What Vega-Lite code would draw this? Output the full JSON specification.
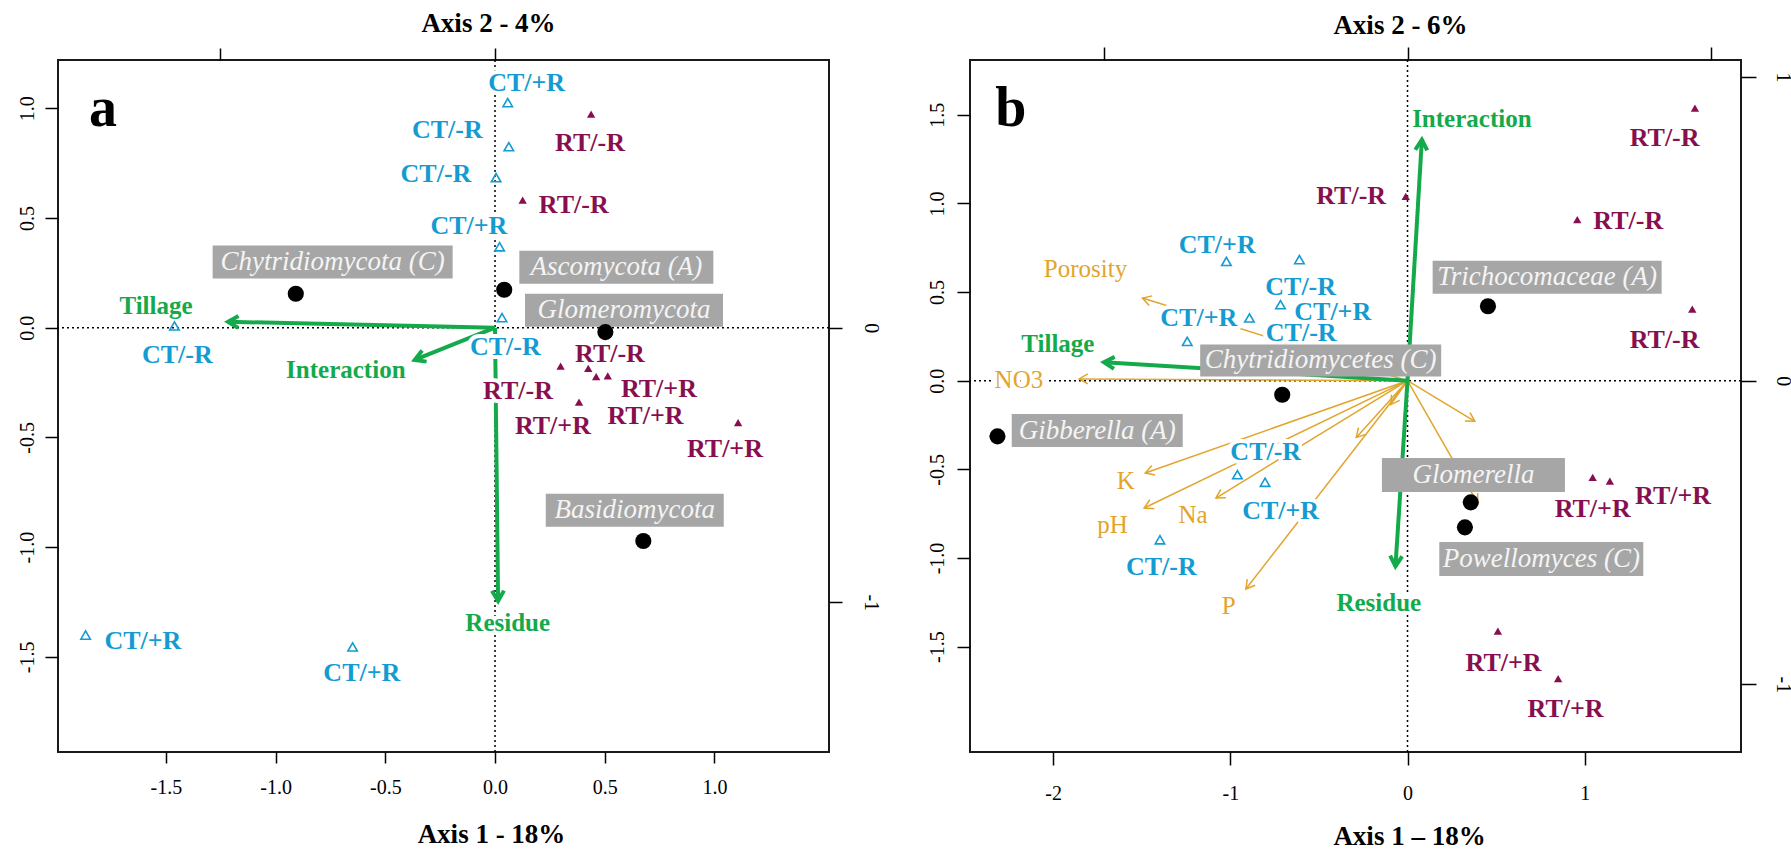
{
"$schema": "https://vega.github.io/schema/vega-lite/v6.json",
"background": "white",
"padding": {"left": 16, "top": 8, "right": 0, "bottom": 0},
"spacing": 44,
"datasets": {
 "ref": [{"ref": 0}],
 "a_sites": [
  {"trt":"CT","x":0.058,"y":1.026},{"trt":"CT","x":0.063,"y":0.825},{"trt":"CT","x":0.005,"y":0.684},{"trt":"CT","x":0.021,"y":0.369},
  {"trt":"CT","x":0.032,"y":0.046},{"trt":"CT","x":-1.461,"y":0.008},{"trt":"CT","x":-1.866,"y":-1.401},{"trt":"CT","x":-0.649,"y":-1.455},
  {"trt":"RT","x":0.438,"y":0.973},{"trt":"RT","x":0.126,"y":0.581},{"trt":"RT","x":0.299,"y":-0.175},{"trt":"RT","x":0.425,"y":-0.185},
  {"trt":"RT","x":0.461,"y":-0.223},{"trt":"RT","x":0.514,"y":-0.220},{"trt":"RT","x":0.383,"y":-0.339},{"trt":"RT","x":1.108,"y":-0.433}
 ],
 "a_site_labels": [
  {"trt":"CT","label":"CT/+R","x":0.144,"y":1.117},{"trt":"CT","label":"CT/-R","x":-0.217,"y":0.900},{"trt":"CT","label":"CT/-R","x":-0.269,"y":0.701},
  {"trt":"CT","label":"CT/+R","x":-0.119,"y":0.464},{"trt":"CT","label":"CT/-R","x":0.047,"y":-0.088},{"trt":"CT","label":"CT/-R","x":-1.448,"y":-0.124},
  {"trt":"CT","label":"CT/+R","x":-1.605,"y":-1.428},{"trt":"CT","label":"CT/+R","x":-0.607,"y":-1.575},
  {"trt":"RT","label":"RT/-R","x":0.433,"y":0.843},{"trt":"RT","label":"RT/-R","x":0.359,"y":0.558},{"trt":"RT","label":"RT/-R","x":0.524,"y":-0.121},
  {"trt":"RT","label":"RT/+R","x":0.747,"y":-0.278},{"trt":"RT","label":"RT/-R","x":0.105,"y":-0.289},{"trt":"RT","label":"RT/+R","x":0.686,"y":-0.402},
  {"trt":"RT","label":"RT/+R","x":0.264,"y":-0.448},{"trt":"RT","label":"RT/+R","x":1.048,"y":-0.554}
 ],
 "a_vars": [{"var":"Tillage","x":-1.217,"y":0.027},{"var":"Interaction","x":-0.366,"y":-0.147},{"var":"Residue","x":0.014,"y":-1.246}],
 "a_var_labels": [{"label":"Tillage","x":-1.545,"y":0.099},{"label":"Interaction","x":-0.680,"y":-0.193},{"label":"Residue","x":0.058,"y":-1.347}],
 "a_taxa": [{"taxon":"Chytridiomycota","x":-0.908,"y":0.155},{"taxon":"Ascomycota","x":0.042,"y":0.173},{"taxon":"Glomeromycota","x":0.503,"y":-0.020},{"taxon":"Basidiomycota","x":0.676,"y":-0.972}],
 "a_taxa_labels": [{"label":"Chytridiomycota (C)","x":-0.740,"y":0.299},{"label":"Ascomycota (A)","x":0.553,"y":0.275},{"label":"Glomeromycota","x":0.588,"y":0.079},{"label":"Basidiomycota","x":0.637,"y":-0.832}],
 "a_letter": [{"label":"a","x":-1.787,"y":0.919}],
 "b_sites": [
  {"trt":"CT","x":-1.022,"y":0.673},{"trt":"CT","x":-0.610,"y":0.683},{"trt":"CT","x":-0.717,"y":0.429},{"trt":"CT","x":-0.892,"y":0.354},
  {"trt":"CT","x":-1.243,"y":0.222},{"trt":"CT","x":-0.960,"y":-0.530},{"trt":"CT","x":-0.804,"y":-0.573},{"trt":"CT","x":-1.397,"y":-0.897},
  {"trt":"RT","x":-0.010,"y":1.040},{"trt":"RT","x":0.958,"y":0.908},{"trt":"RT","x":1.622,"y":1.538},{"trt":"RT","x":1.607,"y":0.404},
  {"trt":"RT","x":1.045,"y":-0.545},{"trt":"RT","x":1.142,"y":-0.567},{"trt":"RT","x":0.510,"y":-1.413},{"trt":"RT","x":0.850,"y":-1.681}
 ],
 "b_site_labels": [
  {"trt":"CT","label":"CT/+R","x":-1.074,"y":0.767},{"trt":"CT","label":"CT/-R","x":-0.603,"y":0.528},{"trt":"CT","label":"CT/+R","x":-0.422,"y":0.386},
  {"trt":"CT","label":"CT/+R","x":-1.178,"y":0.354},{"trt":"CT","label":"CT/-R","x":-0.600,"y":0.269},{"trt":"CT","label":"CT/-R","x":-0.800,"y":-0.404},
  {"trt":"CT","label":"CT/+R","x":-0.716,"y":-0.737},{"trt":"CT","label":"CT/-R","x":-1.389,"y":-1.051},
  {"trt":"RT","label":"RT/-R","x":-0.318,"y":1.040},{"trt":"RT","label":"RT/-R","x":1.246,"y":0.899},{"trt":"RT","label":"RT/-R","x":1.451,"y":1.369},
  {"trt":"RT","label":"RT/-R","x":1.451,"y":0.228},{"trt":"RT","label":"RT/+R","x":1.499,"y":-0.649},{"trt":"RT","label":"RT/+R","x":1.045,"y":-0.724},
  {"trt":"RT","label":"RT/+R","x":0.542,"y":-1.592},{"trt":"RT","label":"RT/+R","x":0.892,"y":-1.852}
 ],
 "b_vars": [{"var":"Tillage","x":-1.713,"y":0.104},{"var":"Interaction","x":0.081,"y":1.359},{"var":"Residue","x":-0.068,"y":-1.047}],
 "b_var_labels": [{"label":"Tillage","x":-1.973,"y":0.209},{"label":"Interaction","x":0.363,"y":1.478},{"label":"Residue","x":-0.162,"y":-1.254}],
 "b_env": [
  {"var":"Porosity","x":-1.496,"y":0.466},{"var":"NO3","x":-1.853,"y":0.010},{"var":"K","x":-1.480,"y":-0.521},{"var":"pH","x":-1.486,"y":-0.718},
  {"var":"Na","x":-1.081,"y":-0.662},{"var":"P","x":-0.912,"y":-1.175},{"var":"unlabelled 1","x":-0.289,"y":-0.320},{"var":"unlabelled 2","x":-0.095,"y":-0.135},
  {"var":"unlabelled 3","x":0.380,"y":-0.229},{"var":"unlabelled 4","x":0.396,"y":-0.690}
 ],
 "b_env_labels": [
  {"label":"Porosity","x":-1.817,"y":0.632},{"label":"NO3","x":-2.193,"y":0.006},{"label":"K","x":-1.590,"y":-0.564},
  {"label":"pH","x":-1.665,"y":-0.812},{"label":"Na","x":-1.210,"y":-0.756},{"label":"P","x":-1.009,"y":-1.269}
 ],
 "b_taxa": [{"taxon":"Trichocomaceae","x":0.454,"y":0.420},{"taxon":"Chytridiomycetes","x":-0.707,"y":-0.079},{"taxon":"Gibberella","x":-2.314,"y":-0.314},{"taxon":"Glomerella","x":0.357,"y":-0.686},{"taxon":"Powellomyces","x":0.324,"y":-0.827}],
 "b_taxa_labels": [{"label":"Trichocomaceae (A)","x":0.788,"y":0.583},{"label":"Chytridiomycetes (C)","x":-0.490,"y":0.114},{"label":"Gibberella (A)","x":-1.751,"y":-0.281},{"label":"Glomerella","x":0.372,"y":-0.532},{"label":"Powellomyces (C)","x":0.755,"y":-1.005}],
 "b_letter": [{"label":"b","x":-2.238,"y":1.437}]
},
"hconcat": [
 {
  "width": 771, "height": 692,
  "layer": [
   {"layer": [
    {"data":{"name":"ref"},"mark":{"type":"rule","color":"#000","strokeWidth":1.5,"strokeDash":[2,3]},
     "encoding":{"y":{"field":"ref","type":"quantitative","scale":{"domain":[-1.9339,1.2201],"nice":false,"zero":false},
      "axis":{"orient":"left","values":[-1.5,-1,-0.5,0,0.5,1],"labelExpr":"replace(format(datum.value,'.1f'),'\u2212','-')","tickSize":13,"labelPadding":12,"labelAngle":270,"labelAlign":"center","labelBaseline":"alphabetic","title":null}}}},
    {"data":{"name":"ref"},"mark":{"type":"rule","color":"#000","strokeWidth":1.5,"strokeDash":[2,3]},
     "encoding":{"x":{"field":"ref","type":"quantitative","scale":{"domain":[-1.9918,1.5223],"nice":false,"zero":false},
      "axis":{"orient":"bottom","values":[-1.5,-1,-0.5,0,0.5,1],"labelExpr":"replace(format(datum.value,'.1f'),'\u2212','-')","tickSize":11,"labelPadding":30,"labelAngle":0,"labelAlign":"center","labelBaseline":"alphabetic","title":"Axis 1 - 18%","titleX":433,"titleY":90,"titleAlign":"center","titleBaseline":"alphabetic"}}}},
    {"data":{"name":"a_vars"},"mark":{"type":"rule","color":"#14AA4B","strokeWidth":4},
     "encoding":{"x":{"field":"x","type":"quantitative","scale":{"domain":[-1.9918,1.5223],"nice":false,"zero":false}},"x2":{"datum":0},
      "y":{"field":"y","type":"quantitative","scale":{"domain":[-1.9339,1.2201],"nice":false,"zero":false}},"y2":{"datum":0}}},
    {"data":{"name":"a_vars"},"mark":{"type":"point","shape":"M-0.5,0.866L0,0L0.5,0.866","size":576,"filled":false,"stroke":"#14AA4B","strokeWidth":4,"opacity":1},
     "encoding":{"x":{"field":"x","type":"quantitative","scale":{"domain":[-1.9918,1.5223],"nice":false,"zero":false}},
      "y":{"field":"y","type":"quantitative","scale":{"domain":[-1.9339,1.2201],"nice":false,"zero":false}},
      "angle":{"field":"var","type":"nominal","scale":{"type":"ordinal","domain":["Tillage","Interaction","Residue"],"range":[271.3,248.1,179.4]},"legend":null}}},
    {"data":{"name":"a_site_labels"},"mark":{"type":"text","font":"Liberation Serif","fontSize":26,"fontWeight":"bold","align":"center","baseline":"middle","fill":"white","stroke":"white","strokeWidth":8,"strokeJoin":"round"},
     "encoding":{"x":{"field":"x","type":"quantitative","scale":{"domain":[-1.9918,1.5223],"nice":false,"zero":false}},
      "y":{"field":"y","type":"quantitative","scale":{"domain":[-1.9339,1.2201],"nice":false,"zero":false}},"text":{"field":"label"}}},
    {"data":{"name":"a_var_labels"},"mark":{"type":"text","font":"Liberation Serif","fontSize":25,"fontWeight":"bold","align":"center","baseline":"middle","fill":"white","stroke":"white","strokeWidth":8,"strokeJoin":"round"},
     "encoding":{"x":{"field":"x","type":"quantitative","scale":{"domain":[-1.9918,1.5223],"nice":false,"zero":false}},
      "y":{"field":"y","type":"quantitative","scale":{"domain":[-1.9339,1.2201],"nice":false,"zero":false}},"text":{"field":"label"}}},
    {"data":{"name":"a_taxa_labels"},"mark":{"type":"point","size":40000,"filled":true,"fill":"#A6A6A6","opacity":1,"strokeWidth":0},
     "encoding":{"x":{"field":"x","type":"quantitative","scale":{"domain":[-1.9918,1.5223],"nice":false,"zero":false}},
      "y":{"field":"y","type":"quantitative","scale":{"domain":[-1.9339,1.2201],"nice":false,"zero":false}},
      "shape":{"field":"label","type":"nominal","legend":null,"scale":{"domain":["Chytridiomycota (C)","Ascomycota (A)","Glomeromycota","Basidiomycota"],
       "range":["M-1.2,-0.165L1.2,-0.165L1.2,0.165L-1.2,0.165Z","M-0.97,-0.165L0.97,-0.165L0.97,0.165L-0.97,0.165Z","M-0.99,-0.165L0.99,-0.165L0.99,0.165L-0.99,0.165Z","M-0.89,-0.165L0.89,-0.165L0.89,0.165L-0.89,0.165Z"]}}}},
    {"data":{"name":"a_taxa_labels"},"mark":{"type":"text","font":"Liberation Serif","fontSize":27,"fontStyle":"italic","align":"center","baseline":"middle","color":"#F4F4F4"},
     "encoding":{"x":{"field":"x","type":"quantitative","scale":{"domain":[-1.9918,1.5223],"nice":false,"zero":false}},
      "y":{"field":"y","type":"quantitative","scale":{"domain":[-1.9339,1.2201],"nice":false,"zero":false}},"text":{"field":"label"}}},
    {"data":{"name":"a_sites"},"transform":[{"filter":"datum.trt == 'CT'"}],"mark":{"type":"point","shape":"triangle-up","size":90,"filled":false,"stroke":"#149BD2","strokeWidth":1.6,"opacity":1},
     "encoding":{"x":{"field":"x","type":"quantitative","scale":{"domain":[-1.9918,1.5223],"nice":false,"zero":false}},
      "y":{"field":"y","type":"quantitative","scale":{"domain":[-1.9339,1.2201],"nice":false,"zero":false}}}},
    {"data":{"name":"a_sites"},"transform":[{"filter":"datum.trt == 'RT'"}],"mark":{"type":"point","shape":"triangle-up","size":70,"filled":true,"fill":"#870F50","strokeWidth":0,"opacity":1},
     "encoding":{"x":{"field":"x","type":"quantitative","scale":{"domain":[-1.9918,1.5223],"nice":false,"zero":false}},
      "y":{"field":"y","type":"quantitative","scale":{"domain":[-1.9339,1.2201],"nice":false,"zero":false}}}},
    {"data":{"name":"a_taxa"},"mark":{"type":"circle","size":260,"color":"#000","opacity":1},
     "encoding":{"x":{"field":"x","type":"quantitative","scale":{"domain":[-1.9918,1.5223],"nice":false,"zero":false}},
      "y":{"field":"y","type":"quantitative","scale":{"domain":[-1.9339,1.2201],"nice":false,"zero":false}}}},
    {"data":{"name":"a_site_labels"},"mark":{"type":"text","font":"Liberation Serif","fontSize":26,"fontWeight":"bold","align":"center","baseline":"middle"},
     "encoding":{"x":{"field":"x","type":"quantitative","scale":{"domain":[-1.9918,1.5223],"nice":false,"zero":false}},
      "y":{"field":"y","type":"quantitative","scale":{"domain":[-1.9339,1.2201],"nice":false,"zero":false}},"text":{"field":"label"},
      "color":{"field":"trt","type":"nominal","scale":{"domain":["CT","RT"],"range":["#149BD2","#870F50"]},"legend":null}}},
    {"data":{"name":"a_var_labels"},"mark":{"type":"text","font":"Liberation Serif","fontSize":25,"fontWeight":"bold","align":"center","baseline":"middle","color":"#14AA4B"},
     "encoding":{"x":{"field":"x","type":"quantitative","scale":{"domain":[-1.9918,1.5223],"nice":false,"zero":false}},
      "y":{"field":"y","type":"quantitative","scale":{"domain":[-1.9339,1.2201],"nice":false,"zero":false}},"text":{"field":"label"}}},
    {"data":{"name":"a_letter"},"mark":{"type":"text","font":"Liberation Serif","fontSize":56,"fontWeight":"bold","align":"center","baseline":"alphabetic","color":"#000"},
     "encoding":{"x":{"field":"x","type":"quantitative","scale":{"domain":[-1.9918,1.5223],"nice":false,"zero":false}},
      "y":{"field":"y","type":"quantitative","scale":{"domain":[-1.9339,1.2201],"nice":false,"zero":false}},"text":{"field":"label"}}}
   ]},
   {"data":{"name":"ref"},"mark":{"type":"point","opacity":0},
    "encoding":{
     "x":{"field":"ref","type":"quantitative","scale":{"domain":[-1.5914,1.2163],"nice":false,"zero":false},
      "axis":{"orient":"top","values":[-1,0],"labels":false,"tickSize":12,"title":"Axis 2 - 4%","titleX":430,"titleY":-29,"titleAlign":"center","titleBaseline":"alphabetic"}},
     "y":{"field":"ref","type":"quantitative","scale":{"domain":[-1.5452,0.9749],"nice":false,"zero":false},
      "axis":{"orient":"right","values":[-1,0],"labelExpr":"replace(format(datum.value,'d'),'\u2212','-')","tickSize":13,"labelPadding":22,"labelAngle":90,"labelAlign":"center","labelBaseline":"alphabetic","title":null}}}}
  ],
  "resolve": {"scale": {"x": "independent", "y": "independent"}}
 },
 {
  "width": 771, "height": 692,
  "layer": [
   {"layer": [
    {"data":{"name":"ref"},"mark":{"type":"rule","color":"#000","strokeWidth":1.5,"strokeDash":[2,3]},
     "encoding":{"y":{"field":"ref","type":"quantitative","scale":{"domain":[-2.0942,1.8088],"nice":false,"zero":false},
      "axis":{"orient":"left","values":[-1.5,-1,-0.5,0,0.5,1,1.5],"labelExpr":"replace(format(datum.value,'.1f'),'\u2212','-')","tickSize":13,"labelPadding":14,"labelAngle":270,"labelAlign":"center","labelBaseline":"alphabetic","title":null}}}},
    {"data":{"name":"ref"},"mark":{"type":"rule","color":"#000","strokeWidth":1.5,"strokeDash":[2,3]},
     "encoding":{"x":{"field":"ref","type":"quantitative","scale":{"domain":[-2.469,1.882],"nice":false,"zero":false},
      "axis":{"orient":"bottom","values":[-2,-1,0,1],"labelExpr":"replace(format(datum.value,'d'),'\u2212','-')","tickSize":13,"labelPadding":34,"labelAngle":0,"labelAlign":"center","labelBaseline":"alphabetic","title":"Axis 1 \u2013 18%","titleX":439,"titleY":92,"titleAlign":"center","titleBaseline":"alphabetic"}}}},
    {"data":{"name":"b_env"},"mark":{"type":"rule","color":"#E1A52D","strokeWidth":1.5},
     "encoding":{"x":{"field":"x","type":"quantitative","scale":{"domain":[-2.469,1.882],"nice":false,"zero":false}},"x2":{"datum":0},
      "y":{"field":"y","type":"quantitative","scale":{"domain":[-2.0942,1.8088],"nice":false,"zero":false}},"y2":{"datum":0}}},
    {"data":{"name":"b_env"},"mark":{"type":"point","shape":"M-0.5,0.866L0,0L0.5,0.866","size":400,"filled":false,"stroke":"#E1A52D","strokeWidth":1.5,"opacity":1},
     "encoding":{"x":{"field":"x","type":"quantitative","scale":{"domain":[-2.469,1.882],"nice":false,"zero":false}},
      "y":{"field":"y","type":"quantitative","scale":{"domain":[-2.0942,1.8088],"nice":false,"zero":false}},
      "angle":{"field":"var","type":"nominal","scale":{"type":"ordinal","domain":["Tillage","Interaction","Residue","Porosity","NO3","K","pH","Na","P","unlabelled 1","unlabelled 2","unlabelled 3","unlabelled 4"],"range":[273.5,3.4,183.7,287.3,270.3,250.6,244.2,238.5,217.8,222.1,215.1,121.1,150.1]},"legend":null}}},
    {"data":{"name":"b_vars"},"mark":{"type":"rule","color":"#14AA4B","strokeWidth":4},
     "encoding":{"x":{"field":"x","type":"quantitative","scale":{"domain":[-2.469,1.882],"nice":false,"zero":false}},"x2":{"datum":0},
      "y":{"field":"y","type":"quantitative","scale":{"domain":[-2.0942,1.8088],"nice":false,"zero":false}},"y2":{"datum":0}}},
    {"data":{"name":"b_vars"},"mark":{"type":"point","shape":"M-0.5,0.866L0,0L0.5,0.866","size":576,"filled":false,"stroke":"#14AA4B","strokeWidth":4,"opacity":1},
     "encoding":{"x":{"field":"x","type":"quantitative","scale":{"domain":[-2.469,1.882],"nice":false,"zero":false}},
      "y":{"field":"y","type":"quantitative","scale":{"domain":[-2.0942,1.8088],"nice":false,"zero":false}},
      "angle":{"field":"var","type":"nominal","scale":{"type":"ordinal","domain":["Tillage","Interaction","Residue","Porosity","NO3","K","pH","Na","P","unlabelled 1","unlabelled 2","unlabelled 3","unlabelled 4"],"range":[273.5,3.4,183.7,287.3,270.3,250.6,244.2,238.5,217.8,222.1,215.1,121.1,150.1]},"legend":null}}},
    {"data":{"name":"b_site_labels"},"mark":{"type":"text","font":"Liberation Serif","fontSize":26,"fontWeight":"bold","align":"center","baseline":"middle","fill":"white","stroke":"white","strokeWidth":8,"strokeJoin":"round"},
     "encoding":{"x":{"field":"x","type":"quantitative","scale":{"domain":[-2.469,1.882],"nice":false,"zero":false}},
      "y":{"field":"y","type":"quantitative","scale":{"domain":[-2.0942,1.8088],"nice":false,"zero":false}},"text":{"field":"label"}}},
    {"data":{"name":"b_var_labels"},"mark":{"type":"text","font":"Liberation Serif","fontSize":25,"fontWeight":"bold","align":"center","baseline":"middle","fill":"white","stroke":"white","strokeWidth":8,"strokeJoin":"round"},
     "encoding":{"x":{"field":"x","type":"quantitative","scale":{"domain":[-2.469,1.882],"nice":false,"zero":false}},
      "y":{"field":"y","type":"quantitative","scale":{"domain":[-2.0942,1.8088],"nice":false,"zero":false}},"text":{"field":"label"}}},
    {"data":{"name":"b_env_labels"},"mark":{"type":"text","font":"Liberation Serif","fontSize":25,"align":"center","baseline":"middle","fill":"white","stroke":"white","strokeWidth":8,"strokeJoin":"round"},
     "encoding":{"x":{"field":"x","type":"quantitative","scale":{"domain":[-2.469,1.882],"nice":false,"zero":false}},
      "y":{"field":"y","type":"quantitative","scale":{"domain":[-2.0942,1.8088],"nice":false,"zero":false}},"text":{"field":"label"}}},
    {"data":{"name":"b_taxa_labels"},"mark":{"type":"point","size":40000,"filled":true,"fill":"#A6A6A6","opacity":1,"strokeWidth":0},
     "encoding":{"x":{"field":"x","type":"quantitative","scale":{"domain":[-2.469,1.882],"nice":false,"zero":false}},
      "y":{"field":"y","type":"quantitative","scale":{"domain":[-2.0942,1.8088],"nice":false,"zero":false}},
      "shape":{"field":"label","type":"nominal","legend":null,"scale":{"domain":["Trichocomaceae (A)","Chytridiomycetes (C)","Gibberella (A)","Glomerella","Powellomyces (C)"],
       "range":["M-1.145,-0.165L1.145,-0.165L1.145,0.165L-1.145,0.165Z","M-1.205,-0.16L1.205,-0.16L1.205,0.16L-1.205,0.16Z","M-0.855,-0.165L0.855,-0.165L0.855,0.165L-0.855,0.165Z","M-0.915,-0.17L0.915,-0.17L0.915,0.17L-0.915,0.17Z","M-1.02,-0.17L1.02,-0.17L1.02,0.17L-1.02,0.17Z"]}}}},
    {"data":{"name":"b_taxa_labels"},"mark":{"type":"text","font":"Liberation Serif","fontSize":27,"fontStyle":"italic","align":"center","baseline":"middle","color":"#F4F4F4"},
     "encoding":{"x":{"field":"x","type":"quantitative","scale":{"domain":[-2.469,1.882],"nice":false,"zero":false}},
      "y":{"field":"y","type":"quantitative","scale":{"domain":[-2.0942,1.8088],"nice":false,"zero":false}},"text":{"field":"label"}}},
    {"data":{"name":"b_sites"},"transform":[{"filter":"datum.trt == 'CT'"}],"mark":{"type":"point","shape":"triangle-up","size":90,"filled":false,"stroke":"#149BD2","strokeWidth":1.6,"opacity":1},
     "encoding":{"x":{"field":"x","type":"quantitative","scale":{"domain":[-2.469,1.882],"nice":false,"zero":false}},
      "y":{"field":"y","type":"quantitative","scale":{"domain":[-2.0942,1.8088],"nice":false,"zero":false}}}},
    {"data":{"name":"b_sites"},"transform":[{"filter":"datum.trt == 'RT'"}],"mark":{"type":"point","shape":"triangle-up","size":70,"filled":true,"fill":"#870F50","strokeWidth":0,"opacity":1},
     "encoding":{"x":{"field":"x","type":"quantitative","scale":{"domain":[-2.469,1.882],"nice":false,"zero":false}},
      "y":{"field":"y","type":"quantitative","scale":{"domain":[-2.0942,1.8088],"nice":false,"zero":false}}}},
    {"data":{"name":"b_taxa"},"mark":{"type":"circle","size":260,"color":"#000","opacity":1},
     "encoding":{"x":{"field":"x","type":"quantitative","scale":{"domain":[-2.469,1.882],"nice":false,"zero":false}},
      "y":{"field":"y","type":"quantitative","scale":{"domain":[-2.0942,1.8088],"nice":false,"zero":false}}}},
    {"data":{"name":"b_site_labels"},"mark":{"type":"text","font":"Liberation Serif","fontSize":26,"fontWeight":"bold","align":"center","baseline":"middle"},
     "encoding":{"x":{"field":"x","type":"quantitative","scale":{"domain":[-2.469,1.882],"nice":false,"zero":false}},
      "y":{"field":"y","type":"quantitative","scale":{"domain":[-2.0942,1.8088],"nice":false,"zero":false}},"text":{"field":"label"},
      "color":{"field":"trt","type":"nominal","scale":{"domain":["CT","RT"],"range":["#149BD2","#870F50"]},"legend":null}}},
    {"data":{"name":"b_var_labels"},"mark":{"type":"text","font":"Liberation Serif","fontSize":25,"fontWeight":"bold","align":"center","baseline":"middle","color":"#14AA4B"},
     "encoding":{"x":{"field":"x","type":"quantitative","scale":{"domain":[-2.469,1.882],"nice":false,"zero":false}},
      "y":{"field":"y","type":"quantitative","scale":{"domain":[-2.0942,1.8088],"nice":false,"zero":false}},"text":{"field":"label"}}},
    {"data":{"name":"b_env_labels"},"mark":{"type":"text","font":"Liberation Serif","fontSize":25,"align":"center","baseline":"middle","color":"#E1A52D"},
     "encoding":{"x":{"field":"x","type":"quantitative","scale":{"domain":[-2.469,1.882],"nice":false,"zero":false}},
      "y":{"field":"y","type":"quantitative","scale":{"domain":[-2.0942,1.8088],"nice":false,"zero":false}},"text":{"field":"label"}}},
    {"data":{"name":"b_letter"},"mark":{"type":"text","font":"Liberation Serif","fontSize":56,"fontWeight":"bold","align":"center","baseline":"alphabetic","color":"#000"},
     "encoding":{"x":{"field":"x","type":"quantitative","scale":{"domain":[-2.469,1.882],"nice":false,"zero":false}},
      "y":{"field":"y","type":"quantitative","scale":{"domain":[-2.0942,1.8088],"nice":false,"zero":false}},"text":{"field":"label"}}}
   ]},
   {"data":{"name":"ref"},"mark":{"type":"point","opacity":0},
    "encoding":{
     "x":{"field":"ref","type":"quantitative","scale":{"domain":[-1.4406,1.0981],"nice":false,"zero":false},
      "axis":{"orient":"top","values":[-1,0,1],"labels":false,"tickSize":13,"title":"Axis 2 - 6%","titleX":430,"titleY":-27,"titleAlign":"center","titleBaseline":"alphabetic"}},
     "y":{"field":"ref","type":"quantitative","scale":{"domain":[-1.2226,1.0560],"nice":false,"zero":false},
      "axis":{"orient":"right","values":[-1,0,1],"labelExpr":"replace(format(datum.value,'d'),'\u2212','-')","tickSize":15,"labelPadding":20,"labelAngle":90,"labelAlign":"center","labelBaseline":"alphabetic","title":null}}}}
  ],
  "resolve": {"scale": {"x": "independent", "y": "independent"}}
 }
],
"resolve": {"scale": {"shape": "independent", "angle": "independent", "color": "independent"}},
"config": {
 "view": {"stroke": "#1a1a1a", "strokeWidth": 2},
 "axis": {"grid": false, "domain": false, "labelFont": "Liberation Serif", "labelFontSize": 20, "labelColor": "#000", "tickColor": "#000", "tickWidth": 1.5,
  "titleFont": "Liberation Serif", "titleFontSize": 27, "titleFontWeight": "bold", "titleColor": "#000", "labelOverlap": false, "labelFlush": false},
 "text": {"font": "Liberation Serif"}
}
}
